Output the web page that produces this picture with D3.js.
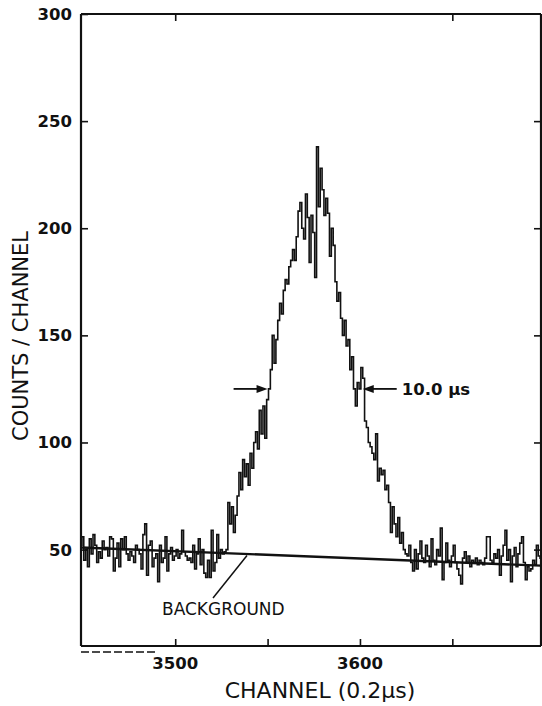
<!DOCTYPE html>
<html>
<head>
<meta charset="utf-8">
<script src="https://cdn.jsdelivr.net/npm/d3@7/dist/d3.min.js"></script>
<style>
  html, body { margin: 0; padding: 0; background: #fff; }
  svg { display: block; }
  text { font-family: "DejaVu Sans", "Liberation Sans", sans-serif; fill: #111; }
</style>
</head>
<body>
<svg id="chart" width="542" height="706"></svg>
<script>
// ---------- DATA ----------
const channelStart = 3449;   // first channel shown
const counts = [
  // 3449 - 3528 : background region
  52, 56, 45, 50, 42, 55, 48, 57, 52, 44,
  49, 46, 54, 50, 51, 47, 56, 55, 40, 46,
  53, 42, 55, 50, 56, 48, 45, 49, 47, 44,
  52, 50, 48, 41, 57, 62, 38, 52, 54, 42,
  46, 48, 35, 52, 44, 46, 56, 40, 48, 51,
  45, 47, 50, 46, 48, 59, 49, 47, 45, 46,
  44, 52, 41, 48, 55, 43, 50, 39, 37, 45,
  37, 59, 40, 44, 57, 46, 50, 48, 49, 50,
  // 3529 - 3625 : peak
  72, 62, 70, 58, 66, 75, 86, 78, 92, 84,
  90, 80, 95, 88, 100, 105, 97, 115, 104, 117,
  102, 120, 125, 134, 150, 137, 148, 157, 165, 160,
  171, 176, 174, 182, 185, 190, 185, 196, 208, 212,
  200, 195, 216, 205, 184, 206, 198, 177, 238, 210,
  228, 218, 206, 214, 207, 187, 200, 192, 175, 166,
  170, 158, 150, 157, 145, 148, 134, 140, 125, 117,
  128, 125, 135, 130, 110, 107, 100, 98, 95, 92,
  104, 82, 88, 85, 87, 78, 80, 72, 58, 70,
  62, 56, 65, 53, 58, 50, 48,
  // 3626 - 3698 : background region
  47, 52, 44, 40, 50, 41, 48, 54, 46, 44,
  52, 47, 42, 55, 45, 43, 50, 47, 60, 36,
  44, 53, 45, 42, 47, 52, 44, 41, 38, 34,
  46, 49, 44, 47, 42, 45, 44, 46, 43, 45,
  44, 43, 46, 56, 56, 45, 44, 48, 46, 50,
  38, 47, 52, 59, 45, 50, 35, 47, 51, 42,
  48, 53, 56, 44, 36, 42, 40, 41, 45, 43,
  52, 47, 46
];
const channels = counts.map((_, i) => channelStart + i);

const background = [ { ch: 3449, v: 51 }, { ch: 3698, v: 42.5 } ];
const xDomain = [3449, 3698];
const yDomain = [5, 300];
const xTicks = [3500, 3550, 3600, 3650];
const xTopTicks = [3500, 3650];
const xTickLabels = [3500, 3600];
const yTicks = [50, 100, 150, 200, 250, 300];
const fwhm = { left: 3550, right: 3601.5, level: 125, label: "10.0 \u03bcs" };

// ---------- LAYOUT ----------
const svg = d3.select("#chart");
const L = 81, R = 541, T = 14, B = 646;
const x = d3.scaleLinear().domain(xDomain).range([L, R]);
const y = d3.scaleLinear().domain(yDomain).range([B, T]);
const ink = "#111";

// data step line
const data = channels.map((c, i) => ({ c, v: counts[i] }));
const line = d3.line().x(d => x(d.c)).y(d => y(d.v)).curve(d3.curveStep);
svg.append("path").datum(data)
  .attr("d", line).attr("fill", "none")
  .attr("stroke", ink).attr("stroke-width", 1.6)
  .attr("stroke-linejoin", "miter");

// background line
svg.append("line")
  .attr("x1", x(background[0].ch)).attr("y1", y(background[0].v))
  .attr("x2", x(background[1].ch)).attr("y2", y(background[1].v))
  .attr("stroke", ink).attr("stroke-width", 2.4);

// axes (frame with inward ticks)
const tickLen = 7;
const axLeft = svg.append("g").attr("transform", `translate(${L},0)`)
  .call(d3.axisRight(y).tickValues(yTicks).tickSize(tickLen).tickFormat(""));
const axRight = svg.append("g").attr("transform", `translate(${R},0)`)
  .call(d3.axisLeft(y).tickValues(yTicks.filter(v => v < 300)).tickSize(tickLen).tickFormat(""));
const axBottom = svg.append("g").attr("transform", `translate(0,${B})`)
  .call(d3.axisTop(x).tickValues(xTicks).tickSize(tickLen).tickFormat(""));
const axTop = svg.append("g").attr("transform", `translate(0,${T})`)
  .call(d3.axisBottom(x).tickValues(xTopTicks).tickSize(tickLen).tickFormat(""));
[axLeft, axRight, axBottom, axTop].forEach(g => {
  g.select(".domain").attr("stroke", ink).attr("stroke-width", 2.2);
  g.selectAll(".tick line").attr("stroke", ink).attr("stroke-width", 1.6);
});
axLeft.select(".domain").attr("d", `M0,${T}V${B}`);
axRight.select(".domain").attr("d", `M0,${T}V${B}`);
axBottom.select(".domain").attr("d", `M${L},0H${R}`);
axTop.select(".domain").attr("d", `M${L},0H${R}`);

// y tick labels
svg.append("g").selectAll("text").data(yTicks).join("text")
  .attr("x", L - 9).attr("y", d => y(d)).attr("dy", "0.36em")
  .attr("text-anchor", "end").attr("font-size", 16.5).attr("font-weight", 600)
  .text(d => d);

// x tick labels
svg.append("g").selectAll("text").data(xTickLabels).join("text")
  .attr("x", d => x(d)).attr("y", B + 23)
  .attr("text-anchor", "middle").attr("font-size", 16.5).attr("font-weight", 600)
  .text(d => d);

// axis titles
svg.append("text")
  .attr("transform", `translate(28,336) rotate(-90)`)
  .attr("text-anchor", "middle").attr("font-size", 21)
  .text("COUNTS / CHANNEL");
svg.append("text")
  .attr("x", 320).attr("y", 698)
  .attr("text-anchor", "middle").attr("font-size", 22)
  .text("CHANNEL (0.2\u03bcs)");

// scan artefact under the axis at bottom-left
svg.append("line")
  .attr("x1", L).attr("x2", 155).attr("y1", B + 6).attr("y2", B + 6)
  .attr("stroke", ink).attr("stroke-width", 1.5).attr("stroke-dasharray", "8,3");

// BACKGROUND label and leader
svg.append("text")
  .attr("x", 162).attr("y", 615).attr("font-size", 17)
  .text("BACKGROUND");
svg.append("line")
  .attr("x1", 213).attr("y1", 598).attr("x2", 247).attr("y2", y(50) + 6)
  .attr("stroke", ink).attr("stroke-width", 1.5);

// FWHM arrows
function arrow(tipX, dir) {
  const yy = y(fwhm.level);
  const tail = tipX - dir * 34;
  svg.append("line").attr("x1", tail).attr("y1", yy).attr("x2", tipX - dir * 9).attr("y2", yy)
    .attr("stroke", ink).attr("stroke-width", 1.8);
  svg.append("path")
    .attr("d", `M${tipX},${yy} L${tipX - dir * 11},${yy - 4} L${tipX - dir * 11},${yy + 4} Z`)
    .attr("fill", ink);
}
arrow(x(fwhm.left), 1);
arrow(x(fwhm.right), -1);
svg.append("text")
  .attr("x", x(fwhm.right) + 39).attr("y", y(fwhm.level)).attr("dy", "0.36em")
  .attr("font-size", 16.5).attr("font-weight", 600)
  .text(fwhm.label);
</script>
</body>
</html>
